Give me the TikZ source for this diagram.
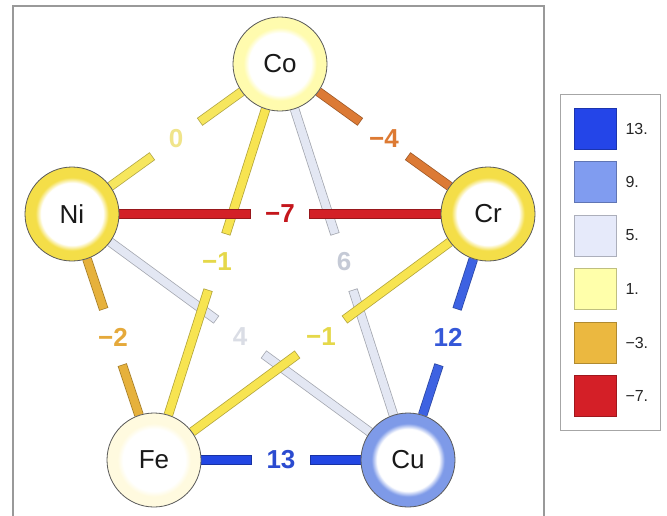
\documentclass[tikz,border=0pt]{standalone}
\usepackage{fontspec}
\setmainfont{Liberation Sans}
\usetikzlibrary{calc}
\colorlet{ringcol}{white}
\pgfdeclareradialshading[ringcol]{ring}{\pgfpoint{0bp}{0bp}}{color(0bp)=(white); color(16.5bp)=(white); color(19.5bp)=(ringcol); color(50bp)=(ringcol)}
\pgfdeclarelayer{bg}
\pgfsetlayers{bg,main}
% node colours
\definecolor{cCo}{HTML}{FFFBAE}
\definecolor{cNi}{HTML}{F4DE48}
\definecolor{cCr}{HTML}{F4DE48}
\definecolor{cFe}{HTML}{FFFADF}
\definecolor{cCu}{HTML}{7E9AE8}
% edge colours
\definecolor{eZero}{HTML}{F6E65E}
\definecolor{eMfour}{HTML}{DC7A35}
\definecolor{eMseven}{HTML}{D32027}
\definecolor{eMone}{HTML}{F7E451}
\definecolor{eLight}{HTML}{E3E7F3}
\definecolor{eMtwo}{HTML}{E6B13C}
\definecolor{eTwelve}{HTML}{3D62E2}
\definecolor{eThirteen}{HTML}{2246E3}
% label colours
\definecolor{tZero}{HTML}{F0E48A}
\definecolor{tMfour}{HTML}{DD7A33}
\definecolor{tMseven}{HTML}{C4161C}
\definecolor{tMone}{HTML}{E5D84A}
\definecolor{tSix}{HTML}{C5CAD6}
\definecolor{tMtwo}{HTML}{E5A93B}
\definecolor{tFour}{HTML}{DADDE5}
\definecolor{tTwelve}{HTML}{3558D8}
\definecolor{tThirteen}{HTML}{2B4BD0}
% legend colours
\definecolor{gA}{HTML}{2445E8}
\definecolor{gB}{HTML}{809CF0}
\definecolor{gC}{HTML}{E6EAFA}
\definecolor{gD}{HTML}{FFFFAA}
\definecolor{gE}{HTML}{EBB840}
\definecolor{gF}{HTML}{D41F27}
\newcommand\elink[4]{% from, label, to, colour
  \draw[line width=9.5pt, draw=#4!72!black] (#1) -- (#2);
  \draw[line width=9.5pt, draw=#4!72!black] (#2) -- (#3);
  \draw[line width=8pt, draw=#4, shorten >=0.75pt] (#1) -- (#2);
  \draw[line width=8pt, draw=#4, shorten <=0.75pt] (#2) -- (#3);
}
\begin{document}
\begin{tikzpicture}[x=1pt,y=-1pt,
  elem/.style={circle, draw=black!65, line width=0.8pt, minimum size=94pt,
    inner sep=0pt, font=\fontsize{26}{30}\selectfont, text=black!90, shading=ring},
  ringcolor/.code={\colorlet{ringcol}{#1}},
  elabel/.style={circle, minimum size=58pt, inner sep=0pt,
    font=\bfseries\fontsize{26}{30}\selectfont},
  swatch/.style={draw=#1!75!black, fill=#1, line width=0.6pt},
  legtext/.style={anchor=west, inner sep=0pt, font=\fontsize{16}{18}\selectfont, text=black!85}]
\useasboundingbox (0,0) rectangle (667,515);
\clip (0,0) rectangle (667,515);
% element nodes
\node[elem, ringcolor=cCo] (Co) at (280,64) {Co};
\node[elem, ringcolor=cNi] (Ni) at (72,214) {Ni};
\node[elem, ringcolor=cCr] (Cr) at (488,214) {Cr};
\node[elem, ringcolor=cFe] (Fe) at (154,460) {Fe};
\node[elem, ringcolor=cCu] (Cu) at (408,460) {Cu};
% edge labels
\node[elabel, text=tZero]     (lCoNi) at ($(Co)!0.5!(Ni)$) {0};
\node[elabel, text=tMfour]    (lCoCr) at ($(Co)!0.5!(Cr)$) {−4};
\node[elabel, text=tMseven]   (lNiCr) at ($(Ni)!0.5!(Cr)$) {−7};
\node[elabel, text=tMone]     (lCoFe) at ($(Co)!0.5!(Fe)$) {−1};
\node[elabel, text=tSix]      (lCoCu) at ($(Co)!0.5!(Cu)$) {6};
\node[elabel, text=tMtwo]     (lNiFe) at ($(Ni)!0.5!(Fe)$) {−2};
\node[elabel, text=tFour]     (lNiCu) at ($(Ni)!0.5!(Cu)$) {4};
\node[elabel, text=tMone]     (lCrFe) at ($(Cr)!0.5!(Fe)$) {−1};
\node[elabel, text=tTwelve]   (lCrCu) at ($(Cr)!0.5!(Cu)$) {12};
\node[elabel, text=tThirteen] (lFeCu) at ($(Fe)!0.5!(Cu)$) {13};
% background, frame and edges
\begin{pgfonlayer}{bg}
  \fill[white] (0,0) rectangle (667,515);
  \draw[black!40, line width=1.4pt] (13,540) -- (13,6) -- (544,6) -- (544,540);
  \elink{Co}{lCoCu}{Cu}{eLight}
  \elink{Ni}{lNiCu}{Cu}{eLight}
  \elink{Co}{lCoNi}{Ni}{eZero}
  \elink{Co}{lCoFe}{Fe}{eMone}
  \elink{Cr}{lCrFe}{Fe}{eMone}
  \elink{Ni}{lNiFe}{Fe}{eMtwo}
  \elink{Co}{lCoCr}{Cr}{eMfour}
  \elink{Ni}{lNiCr}{Cr}{eMseven}
  \elink{Cr}{lCrCu}{Cu}{eTwelve}
  \elink{Fe}{lFeCu}{Cu}{eThirteen}
\end{pgfonlayer}
% legend
\node[draw=black!35, line width=0.8pt, minimum width=100pt, minimum height=336pt,
  inner sep=0pt] (legend) at (610,262) {};
\node[swatch=gA, minimum width=42pt, minimum height=41pt, inner sep=0pt] (s1) at (595,128.5) {};
\node[swatch=gB, minimum width=42pt, minimum height=41pt, inner sep=0pt] (s2) at (595,182) {};
\node[swatch=gC, minimum width=42pt, minimum height=41pt, inner sep=0pt] (s3) at (595,235.5) {};
\node[swatch=gD, minimum width=42pt, minimum height=41pt, inner sep=0pt] (s4) at (595,289) {};
\node[swatch=gE, minimum width=42pt, minimum height=41pt, inner sep=0pt] (s5) at (595,342.5) {};
\node[swatch=gF, minimum width=42pt, minimum height=41pt, inner sep=0pt] (s6) at (595,396) {};
\node[legtext] (t1) at ($(s1.east)+(9,0)$) {13.};
\node[legtext] (t2) at ($(s2.east)+(9,0)$) {9.};
\node[legtext] (t3) at ($(s3.east)+(9,0)$) {5.};
\node[legtext] (t4) at ($(s4.east)+(9,0)$) {1.};
\node[legtext] (t5) at ($(s5.east)+(9,0)$) {−3.};
\node[legtext] (t6) at ($(s6.east)+(9,0)$) {−7.};
\end{tikzpicture}
\end{document}
